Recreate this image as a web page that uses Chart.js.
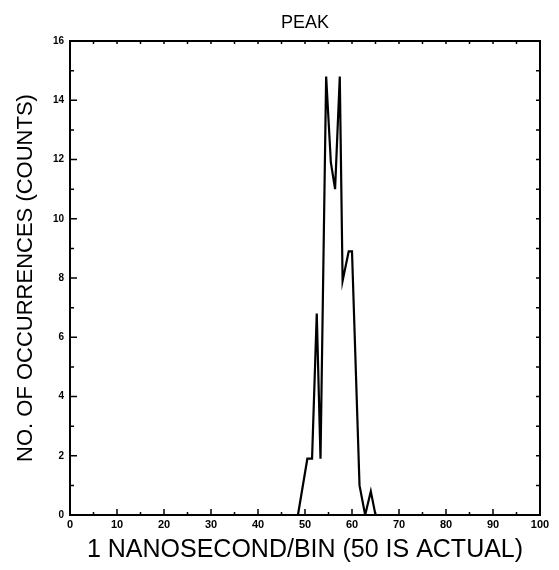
<!DOCTYPE html>
<html><head><meta charset="utf-8">
<script src="https://cdn.jsdelivr.net/npm/chart.js@4/dist/chart.umd.min.js"></script>
<style>html,body{margin:0;padding:0;background:#fff}#wrap{width:559px;height:570px}</style>
</head><body><div id="wrap"><canvas id="c" width="559" height="570"></canvas></div>
<script>
// ---- data ----
const binCenters = [0, 48.5, 50.5, 51.5, 52.5, 53.3, 54.5, 55.5, 56.4, 57.4, 58.0, 59.3, 60.0, 61.6, 62.8, 64.0, 65.0, 100];
const counts     = [0, 0,    1.9,  1.9,  6.8,  1.9,  14.8, 11.9, 11.0, 14.8, 7.9,  8.9,  8.9,  1.0,  0,    0.8,  0,    0];
const xTickStep = 10, xMinorStep = 5, xMin = 0, xMax = 100;
const yTickStep = 2,  yMinorStep = 1, yMin = 0, yMax = 16;
const chartTitle = 'PEAK';
const xTitle = '1 NANOSECOND/BIN (50 IS ACTUAL)';
const yTitle = 'NO. OF OCCURRENCES (COUNTS)';

const tickFont = "'Liberation Sans Narrow','Liberation Sans',Arial,sans-serif";
const titleFont = "'Liberation Sans',Arial,sans-serif";

const frameTicks = {
  id: 'frameTicks',
  afterDraw(chart) {
    const {ctx, chartArea: a, scales: {x, y}} = chart;
    ctx.save();
    ctx.strokeStyle = '#000';
    ctx.lineWidth = 2;
    ctx.strokeRect(a.left, a.top, a.right - a.left, a.bottom - a.top);
    ctx.lineWidth = 1.5;
    ctx.beginPath();
    for (let v = xMin; v <= xMax; v += xMinorStep) {
      const px = x.getPixelForValue(v);
      const L = (v % xTickStep === 0) ? 6 : 3;
      ctx.moveTo(px, a.bottom); ctx.lineTo(px, a.bottom - L);
      ctx.moveTo(px, a.top); ctx.lineTo(px, a.top + 3);
    }
    for (let v = yMin; v <= yMax; v += yMinorStep) {
      const py = y.getPixelForValue(v);
      const L = (v % yTickStep === 0) ? 7 : 4;
      ctx.moveTo(a.left, py); ctx.lineTo(a.left + L, py);
      ctx.moveTo(a.right, py); ctx.lineTo(a.right - 4, py);
    }
    ctx.stroke();
    ctx.restore();
  }
};

new Chart(document.getElementById('c'), {
  type: 'line',
  data: {
    datasets: [{
      data: binCenters.map((b, i) => ({x: b, y: counts[i]})),
      borderColor: '#000',
      borderWidth: 2.2,
      pointRadius: 0,
      tension: 0,
      fill: false
    }]
  },
  options: {
    responsive: false,
    animation: false,
    devicePixelRatio: 1,
    layout: {padding: {left: 0, right: 19, top: 0, bottom: 0}},
    plugins: {
      legend: {display: false},
      tooltip: {enabled: false},
      title: {
        display: true, text: chartTitle, color: '#000', fullSize: false,
        font: {family: titleFont, size: 18, weight: 'normal'},
        padding: {top: 12.7, bottom: 6.7}
      }
    },
    scales: {
      x: {
        type: 'linear', min: xMin, max: xMax,
        grid: {display: false, drawTicks: false},
        border: {display: false},
        ticks: {stepSize: xTickStep, padding: 3, maxRotation: 0, autoSkip: false, color: '#000',
                font: {family: tickFont, size: 11, weight: 'bold'}},
        title: {display: true, text: xTitle, color: '#000',
                font: {family: titleFont, size: 25}, padding: {top: 0, bottom: 5}},
        afterFit(s) { s.height = 55; }
      },
      y: {
        type: 'linear', min: yMin, max: yMax,
        grid: {display: false, drawTicks: false},
        border: {display: false},
        ticks: {stepSize: yTickStep, padding: 6, color: '#000',
                font: {family: tickFont, size: 10, weight: 'bold'}},
        title: {display: true, text: yTitle, color: '#000',
                font: {family: titleFont, size: 22}, padding: {top: 13, bottom: 0}},
        afterFit(s) { s.width = 70; }
      }
    }
  },
  plugins: [frameTicks]
});
</script>
</body></html>
